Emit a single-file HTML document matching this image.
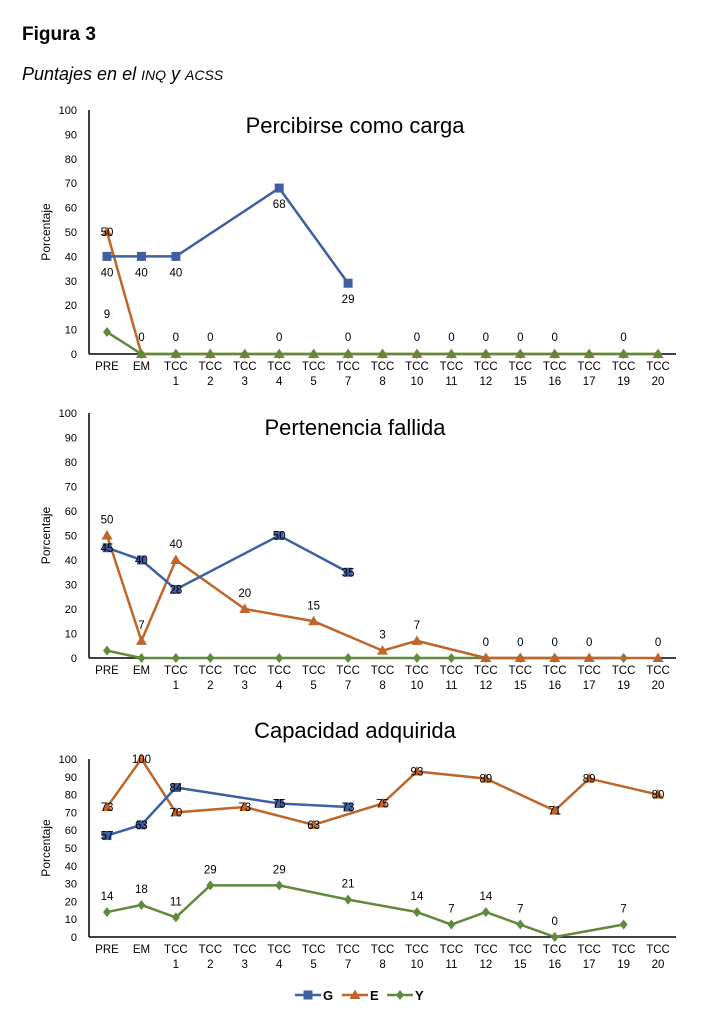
<!DOCTYPE html>
<html><head><meta charset="utf-8"><style>
body{margin:0;background:#fff;font-family:"Liberation Sans",sans-serif;}
#wrap{position:relative;width:708px;height:1022px;}
</style></head><body>
<div id="wrap">
<svg id="svg" width="708" height="1022" xmlns="http://www.w3.org/2000/svg">
<text x="22" y="40" font-size="19" font-weight="bold" font-family="Liberation Sans">Figura 3</text>
<text x="22" y="80" font-size="18" font-style="italic" font-family="Liberation Sans">Puntajes en el <tspan font-size="14">INQ</tspan> y <tspan font-size="14">ACSS</tspan></text>
</svg>
</div>
<script>
const categories=[["PRE"],["EM"],["TCC","1"],["TCC","2"],["TCC","3"],["TCC","4"],["TCC","5"],["TCC","7"],["TCC","8"],["TCC","10"],["TCC","11"],["TCC","12"],["TCC","15"],["TCC","16"],["TCC","17"],["TCC","19"],["TCC","20"]];
const yTicks=[0,10,20,30,40,50,60,70,80,90,100];
const n=null;
const c1G=[40,40,40,n,n,68,n,29,n,n,n,n,n,n,n,n,n];
const c1E=[50,0,0,0,0,0,0,0,0,0,0,0,0,0,0,0,0];
const c1Y=[9,0,0,0,0,0,0,0,0,0,0,0,0,0,0,0,0];
const c1Labels=[n,0,0,0,n,0,n,0,n,0,0,0,0,0,n,0,n];
const c2G=[45,40,28,n,n,50,n,35,n,n,n,n,n,n,n,n,n];
const c2E=[50,7,40,n,20,n,15,n,3,7,n,0,0,0,0,n,0];
const c2Y=[3,0,0,0,n,0,n,0,n,0,0,0,0,0,n,0,n];
const c3G=[57,63,84,n,n,75,n,73,n,n,n,n,n,n,n,n,n];
const c3E=[73,100,70,n,73,n,63,n,75,93,n,89,n,71,89,n,80];
const c3Y=[14,18,11,29,n,29,n,21,n,14,7,14,7,0,n,7,n];
const colors={G:"#3f5fa3",E:"#c0652a",Y:"#5f8a3a"};
const svg=document.getElementById('svg');
const NS="http://www.w3.org/2000/svg";
function mk(tag,attrs,parent){const e=document.createElementNS(NS,tag);for(const k in attrs)e.setAttribute(k,attrs[k]);(parent||svg).appendChild(e);return e;}
function txt(x,y,s,size,anchor,parent){const t=mk('text',{x:x,y:y,'font-size':size,'text-anchor':anchor||'middle','font-family':'Liberation Sans'},parent);t.textContent=s;return t;}
function marker(kind,x,y,g){
  if(kind==='G'){const m=mk('rect',{x:x-4.5,y:y-4.5,width:9,height:9,fill:colors.G},g);}
  else if(kind==='E'){const m=mk('polygon',{points:`${x},${y-5.5} ${x+5.5},${y+4} ${x-5.5},${y+4}`,fill:colors.E},g);}
  else{const m=mk('polygon',{points:`${x},${y-5} ${x+4},${y} ${x},${y+5} ${x-4},${y}`,fill:colors.Y},g);}
}
function chart(name,title,titleY,y0,y100,series,opts){
  const g=mk('g',{});
  
  
  const xAt=i=>107+i*34.44;
  const yAt=v=>y0-(v/100)*(y0-y100);
  const t=txt(355,titleY,title,22,'middle',g);
  
  yTicks.forEach(v=>{const l=txt(77,yAt(v)+4,String(v),11,'end',g);});
  const yt=txt(0,0,'Porcentaje',12,'middle',g);
  yt.setAttribute('transform',`translate(50,${(y0+y100)/2}) rotate(-90)`);
  
  const ax=mk('line',{x1:89,y1:y100,x2:89,y2:y0,stroke:'#000','stroke-width':1.5},g);
  
  const bx=mk('line',{x1:89,y1:y0,x2:676,y2:y0,stroke:'#000','stroke-width':1.5},g);
  
  categories.forEach((c,i)=>{c.forEach((s,j)=>{const l=txt(xAt(i),y0+16+j*15,s,11.5,'middle',g);});});
  series.forEach(([k,arr,lab])=>{
    const pts=[];arr.forEach((v,i)=>{if(v!==null)pts.push([xAt(i),yAt(v),v,i]);});
    const pl=mk('polyline',{points:pts.map(p=>p[0]+','+p[1]).join(' '),fill:'none',stroke:colors[k],'stroke-width':2.5},g);
    
    pts.forEach(p=>marker(k,p[0],p[1],g));
    if(lab){pts.forEach(p=>{const off=lab==='below'?20:lab==='above'?-12:4;const l=txt(p[0],p[1]+off,String(p[2]),11.5,'middle',g);});}
  });
  return {g,xAt,yAt};
}
const a=chart('chart-percibirse-como-carga','Percibirse como carga',133,354,110,[['E',c1E,null],['Y',c1Y,null],['G',c1G,'below']]);
[[0,50,'E'],[0,9,'Y']].forEach(([i,v])=>{const l=txt(a.xAt(i),a.yAt(v)-(v==50?-4:14),String(v),11.5,'middle',a.g);});
c1Labels.forEach((v,i)=>{if(v!==null){const l=txt(a.xAt(i),341,String(v),11.5,'middle',a.g);}});
chart('chart-pertenencia-fallida','Pertenencia fallida',435,658,413,[['Y',c2Y,null],['E',c2E,'above'],['G',c2G,'center']]);
chart('chart-capacidad-adquirida','Capacidad adquirida',738,937,759,[['Y',c3Y,'above'],['E',c3E,'center'],['G',c3G,'center']]);
const lg=mk('g',{});

[['G',295],['E',342],['Y',387]].forEach(([k,x])=>{
  const e=mk('g',{},lg);
  
  mk('line',{x1:x,y1:995,x2:x+26,y2:995,stroke:colors[k],'stroke-width':2.5},e);
  marker(k,x+13,995,e);
  const t=txt(x+28,1000,k,13,'start',e);t.setAttribute('font-weight','bold');
});
</script>
</body></html>
